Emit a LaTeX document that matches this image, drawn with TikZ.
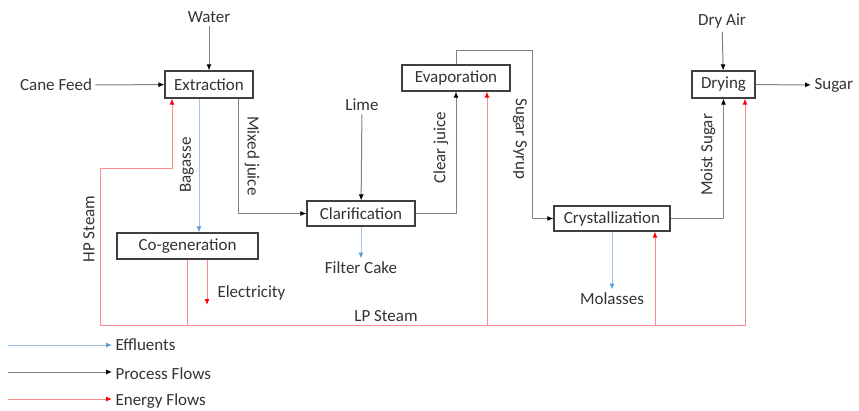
\documentclass[tikz,border=0pt]{standalone}
\usepackage{fontspec}
\setmainfont{Carlito}
\usepackage{xcolor}
\usetikzlibrary{arrows.meta}

\definecolor{txtgray}{HTML}{333333}
\definecolor{boxgray}{HTML}{404040}
\definecolor{procgray}{HTML}{808080}
\definecolor{energyred}{HTML}{FF8A8A}
\definecolor{effblue}{HTML}{9DC3E6}
\definecolor{tipblue}{HTML}{5B9BD5}

\begin{document}
\begin{tikzpicture}[x=1pt,y=-1pt,
    every node/.style={font=\fontsize{17}{19}\selectfont, text=txtgray},
    unit/.style={draw=boxgray, line width=1.2pt, inner sep=0pt},
    proc/.style={draw=procgray, line width=1pt, -{Latex[length=6pt,width=5pt,color=black]}},
    eff/.style={draw=effblue, line width=1pt, -{Latex[length=6pt,width=5pt,color=tipblue]}},
    energy/.style={draw=energyred, line width=1pt, -{Latex[length=6pt,width=5pt,color=red]}}]
        \useasboundingbox (0,0) rectangle (859,410);

        % process units
        \node [unit, minimum width=88pt, minimum height=27pt] (extr) at (209,84.5) {Extraction};
        \node [unit, minimum width=141pt, minimum height=26pt] (cogen) at (187.5,246) {Co-generation};
        \node [unit, minimum width=108pt, minimum height=25pt] (clar) at (361,213.5) {Clarification};
        \node [unit, minimum width=108pt, minimum height=26pt] (evap) at (456,78) {Evaporation};
        \node [unit, minimum width=116pt, minimum height=25pt] (cryst) at (612,218.5) {Crystallization};
        \node [unit, minimum width=63pt, minimum height=27pt] (dry) at (723.5,84.5) {Drying};

        % streams in / out
        \node (water) at (209,17) {Water};
        \node (cane) at (56,85) {Cane Feed};
        \node (lime) at (362,105) {Lime};
        \node (dryair) at (722,21) {Dry Air};
        \node [anchor=west] (sugar) at (811,85) {Sugar};
        \node (filter) at (361,268) {Filter Cake};
        \node (mol) at (612,299) {Molasses};
        \node [anchor=west] (elec) at (214,293) {Electricity};
        \coordinate (elecend) at (207,305);

        \draw [proc] (water) -- (extr);
        \draw [proc] (cane) -- (extr);
        \draw [proc] (lime) -- (clar);
        \draw [proc] (dryair) -- (dry);
        \draw [proc] (dry) -- (sugar);

        % process flows
        \draw [proc] ([xshift=29pt]extr.south) |- (clar.west);
        \draw [proc] (clar.east) -| (evap.south);
        \coordinate (syr) at (532,50);
        \draw [proc] (evap.north) |- (syr) |- (cryst.west);
        \draw [proc] (cryst.east) -| (dry.south);

        \node [rotate=-90] (mixlbl) at (252,156) {Mixed juice};
        \node [rotate=90] (clearlbl) at (441,148) {Clear juice};
        \node [rotate=-90] (syrlbl) at (520,139) {Sugar Syrup};
        \node [rotate=90] (moistlbl) at (708,155) {Moist Sugar};

        % effluents
        \draw [eff] ([xshift=-10pt]extr.south) -- ([xshift=-10pt]extr.south |- cogen.north);
        \draw [eff] (clar.south) -- (filter.north);
        \draw [eff] (cryst.south) -- (mol.north);
        \node [rotate=90] (baglbl) at (187,165) {Bagasse};

        % energy
        \coordinate (hpc) at (100,325);
        \coordinate (hpt) at (100,168);
        \coordinate (lpe) at (745,325);
        \draw [energy] (cogen.south) |- (hpc) -- (hpt) -| ([xshift=-37pt]extr.south);
        \draw [energy] (cogen.south) |- (lpe) -- ([xshift=21.5pt]dry.south);
        \draw [energy] ([xshift=31pt]evap.south |- lpe) -- ([xshift=31pt]evap.south);
        \draw [energy] ([xshift=43pt]cryst.south |- lpe) -- ([xshift=43pt]cryst.south);
        \draw [energy] ([xshift=19.5pt]cogen.south) -- (elecend);
        \node [rotate=90] (hplbl) at (89,229) {HP Steam};
        \node (lplbl) at (386,316) {LP Steam};

        % legend
        \node [anchor=west] (leff) at (112,345) {Effluents};
        \node [anchor=west] (lproc) at (112,374) {Process Flows};
        \node [anchor=west] (lenergy) at (112,401) {Energy Flows};
        \coordinate (leffs) at (8,345);
        \coordinate (lprocs) at (8,372);
        \coordinate (lenergys) at (8,399);
        \draw [eff] (leffs) -- (leffs -| leff.west);
        \draw [proc] (lprocs) -- (lprocs -| lproc.west);
        \draw [energy] (lenergys) -- (lenergys -| lenergy.west);
\end{tikzpicture}
\end{document}
